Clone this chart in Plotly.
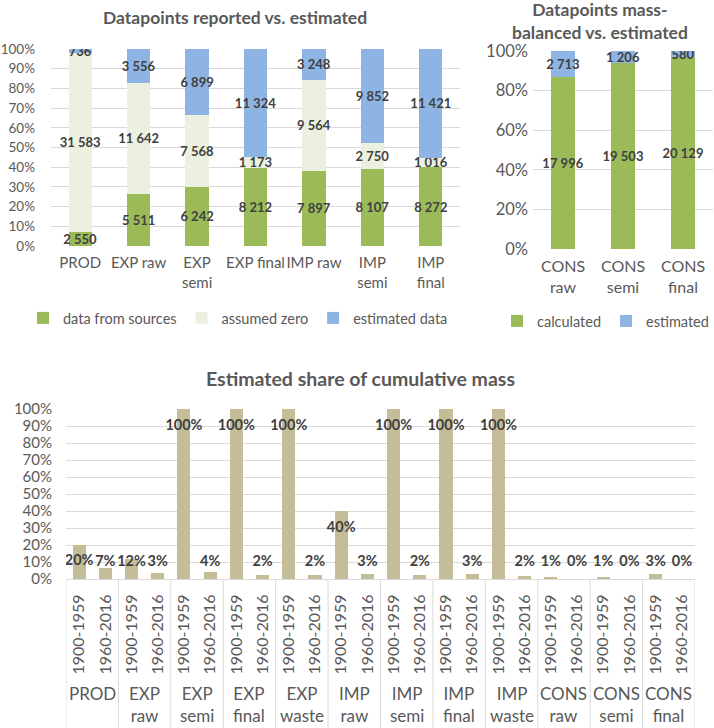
import numpy as np
import plotly.graph_objects as go

W, H = 714, 728


def fx(p):
    return p / W


def fy(p):
    return 1 - p / H


# ---------------- data ----------------
cats1 = ["PROD", "EXP raw", "EXP<br>semi", "EXP final", "IMP raw", "IMP<br>semi", "IMP<br>final"]
sources = [2550, 5511, 6242, 8212, 7897, 8107, 8272]
assumed_zero = [31583, 11642, 7568, 1173, 9564, 2750, 1016]
estimated1 = [736, 3556, 6899, 11324, 3248, 9852, 11421]

cats2 = ["CONS<br>raw", "CONS<br>semi", "CONS<br>final"]
calculated = [17996, 19503, 20129]
estimated2 = [2713, 1206, 580]

groups3 = ["PROD", "EXP<br>raw", "EXP<br>semi", "EXP<br>final", "EXP<br>waste",
           "IMP<br>raw", "IMP<br>semi", "IMP<br>final", "IMP<br>waste",
           "CONS<br>raw", "CONS<br>semi", "CONS<br>final"]
periods = ["1900-1959", "1960-2016"]
share_1900 = [20.2, 12.0, 100, 100, 100, 40.0, 100, 100, 100, 1.2, 0.6, 2.9]
share_1960 = [6.6, 3.3, 3.9, 2.2, 2.4, 2.9, 2.2, 2.9, 1.6, 0.0, 0.0, 0.0]

# ---------------- style ----------------
FONT = "Lato, 'Open Sans', sans-serif"
GREEN = "#9BBB59"
LIGHT = "#EBF1DE"
BLUE = "#8DB4E2"
TAN = "#C4BD97"
GRID = "#D9D9D9"
AX = "#595959"
LBL = "#404040"


def fmt(v):
    return f"{v:,}".replace(",", " ")


fig = go.Figure()

# ---------- chart 1: stacked 100% ----------
tot1 = np.array(sources) + np.array(assumed_zero) + np.array(estimated1)
for name, vals, col in [("data from sources", sources, GREEN),
                        ("assumed zero", assumed_zero, LIGHT),
                        ("estimated data", estimated1, BLUE)]:
    fig.add_trace(go.Bar(
        x=cats1, y=np.array(vals) / tot1 * 100, name=name,
        marker=dict(color=col, line=dict(width=0)),
        text=[fmt(v) for v in vals], textposition="inside", insidetextanchor="middle",
        textangle=0, constraintext="none",
        insidetextfont=dict(family=FONT, size=13, color=LBL, weight="bold"),
        xaxis="x", yaxis="y", legend="legend", hoverinfo="skip"))

# ---------- chart 2 ----------
tot2 = np.array(calculated) + np.array(estimated2)
for name, vals, col in [("calculated", calculated, GREEN), ("estimated", estimated2, BLUE)]:
    fig.add_trace(go.Bar(
        x=cats2, y=np.array(vals) / tot2 * 100, name=name,
        marker=dict(color=col, line=dict(width=0)),
        text=[fmt(v) for v in vals], textposition="inside", insidetextanchor="middle",
        textangle=0, constraintext="none",
        insidetextfont=dict(family=FONT, size=13, color=LBL, weight="bold"),
        xaxis="x2", yaxis="y2", legend="legend2", hoverinfo="skip"))

# ---------- chart 3 ----------
xpos, yvals, tlabels = [], [], []
for g in range(len(groups3)):
    for p, arr in enumerate([share_1900, share_1960]):
        xpos.append(2 * g + p)
        yvals.append(arr[g])
        tlabels.append(periods[p])
yvals = np.array(yvals)
fig.add_trace(go.Bar(x=xpos, y=yvals, width=0.5, marker=dict(color=TAN, line=dict(width=0)),
                     xaxis="x3", yaxis="y3", showlegend=False, hoverinfo="skip"))
fig.add_trace(go.Scatter(x=xpos, y=np.maximum(yvals - 10, 10), mode="text",
                         text=[f"{v:.0f}%" for v in yvals],
                         textfont=dict(family=FONT, size=14.5, color=LBL, weight="bold"),
                         xaxis="x3", yaxis="y3", showlegend=False, hoverinfo="skip"))

# ---------- layout ----------
def tf(s):
    return dict(family=FONT, size=s, color=AX)


fig.update_layout(
    width=W, height=H, margin=dict(l=0, r=0, t=0, b=0, autoexpand=False),
    paper_bgcolor="white", plot_bgcolor="white",
    barmode="stack", bargap=0.6,
    font=dict(family=FONT, color=AX),
    uniformtext=dict(minsize=13, mode="show"),
    xaxis=dict(domain=[fx(51), fx(460)], anchor="y", type="category", tickangle=0,
               tickfont=tf(15), showgrid=False, showline=False, ticks="", ticklabelstandoff=6,
               automargin=False),
    yaxis=dict(domain=[fy(246), fy(49)], anchor="x", range=[0, 100], dtick=10, ticksuffix="%",
               tickfont=tf(13.5), gridcolor=GRID, zeroline=False, showline=False,
               ticklabelstandoff=15, automargin=False),
    xaxis2=dict(domain=[fx(533), fx(713)], anchor="y2", type="category", tickangle=0,
                tickfont=tf(16), showgrid=False, showline=False, ticks="", ticklabelstandoff=6,
                automargin=False),
    yaxis2=dict(domain=[fy(249), fy(51)], anchor="x2", range=[0, 100], dtick=20, ticksuffix="%",
                tickfont=tf(16.5), gridcolor=GRID, zeroline=False, showline=False,
                ticklabelstandoff=4, automargin=False),
    xaxis3=dict(domain=[fx(66), fx(695)], anchor="y3", range=[-0.5, 2 * len(groups3) - 0.5],
                tickvals=xpos, ticktext=tlabels, tickangle=-90, tickfont=tf(16),
                showgrid=False, showline=True, linecolor=GRID, ticks="", ticklabelstandoff=8,
                automargin=False),
    yaxis3=dict(domain=[fy(579), fy(409)], anchor="x3", range=[0, 100], dtick=10, ticksuffix="%",
                tickfont=tf(15), gridcolor=GRID, zeroline=False, showline=False,
                ticklabelstandoff=13, automargin=False),
    legend=dict(orientation="h", x=fx(23), y=fy(318), xanchor="left", yanchor="middle",
                font=tf(14.5), traceorder="normal", itemwidth=30, bgcolor="rgba(0,0,0,0)"),
    legend2=dict(orientation="h", x=fx(497), y=fy(321), xanchor="left", yanchor="middle",
                 font=tf(14.5), traceorder="normal", itemwidth=30, bgcolor="rgba(0,0,0,0)"),
)

# titles
def tt(s):
    return dict(family=FONT, size=s, color=AX, weight="bold")


fig.add_annotation(text="Datapoints reported vs. estimated", x=fx(235), y=fy(17),
                   xref="paper", yref="paper", xanchor="center", yanchor="middle",
                   showarrow=False, font=tt(17.5))
fig.add_annotation(text="Datapoints mass-<br>balanced vs. estimated", x=fx(600), y=fy(21),
                   xref="paper", yref="paper", xanchor="center", yanchor="middle",
                   showarrow=False, font=tt(17.5))
fig.add_annotation(text="Estimated share of cumulative mass", x=fx(360), y=fy(378),
                   xref="paper", yref="paper", xanchor="center", yanchor="middle",
                   showarrow=False, font=tt(19.5))

# bottom group labels and dividers
for g, lab in enumerate(groups3):
    fig.add_annotation(text=lab, x=2 * g + 0.5, y=fy(681), xref="x3", yref="paper",
                       xanchor="center", yanchor="top", showarrow=False, font=tf(17))
for g in range(len(groups3) + 1):
    fig.add_shape(type="line", x0=2 * g - 0.5, x1=2 * g - 0.5, y0=fy(579), y1=0,
                  xref="x3", yref="paper", line=dict(color=GRID, width=1))

fig.write_html("out.html", config={"displayModeBar": False},
               post_script="document.body.style.margin = '0';")
